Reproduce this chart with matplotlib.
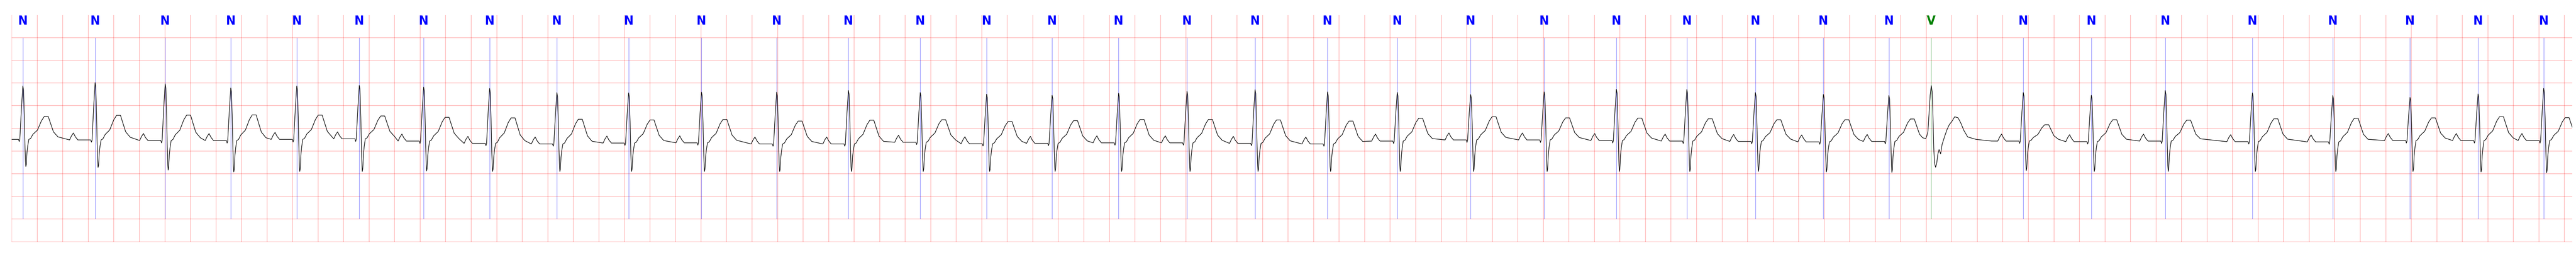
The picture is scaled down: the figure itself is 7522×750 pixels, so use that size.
import numpy as np
import matplotlib
matplotlib.use("Agg")
import matplotlib.pyplot as plt

# ---------------- data ----------------
# R-peak times (s) and beat annotations
beat_times = [0.087, 0.653, 1.202, 1.716, 2.233, 2.723, 3.227, 3.744, 4.271, 4.833,
              5.404, 5.993, 6.555, 7.118, 7.638, 8.151, 8.672, 9.208, 9.741,
              10.309, 10.855, 11.430, 12.006, 12.572, 13.124, 13.661, 14.194, 14.707, 15.039,
              15.760, 16.293, 16.872, 17.555, 18.185, 18.790, 19.323, 19.837]
beat_labels = ['N'] * 28 + ['V'] + ['N'] * 8

# per-beat amplitudes (mV)
r_peak_mv = [0.935, 1.008, 0.983, 0.890, 0.933, 0.946, 0.910, 0.880, 0.789, 0.782,
             0.799, 0.799, 0.837, 0.789, 0.754, 0.729, 0.774, 0.817, 0.852,
             0.804, 0.794, 0.746, 0.804, 0.860, 0.857, 0.789, 0.749, 0.726, 0.946,
             0.789, 0.729, 0.834, 0.782, 0.726, 0.683, 0.759, 0.882]
s_trough_mv = [-0.84, -0.86, -0.92, -0.96, -0.95, -0.95, -0.94, -0.95, -0.95, -0.95,
               -0.95, -0.95, -0.95, -0.95, -0.95, -0.95, -0.95, -0.95, -0.95,
               -0.95, -0.95, -0.95, -0.95, -0.95, -0.95, -0.95, -0.96, -0.97, -0.86,
               -0.93, -0.95, -0.95, -0.95, -0.95, -0.95, -0.96, -0.98]
t_peak_mv = [0.261, 0.286, 0.291, 0.296, 0.291, 0.273, 0.243, 0.231, 0.201, 0.185,
             0.196, 0.160, 0.180, 0.190, 0.150, 0.170, 0.196, 0.196, 0.185,
             0.160, 0.221, 0.256, 0.231, 0.226, 0.211, 0.190, 0.190, 0.206, 0.261,
             0.080, 0.190, 0.180, 0.211, 0.221, 0.231, 0.256, 0.236]
baseline_mv = [-0.243, -0.255, -0.268, -0.268, -0.243, -0.231, -0.280, -0.331, -0.344, -0.324,
               -0.319, -0.344, -0.344, -0.306, -0.339, -0.331, -0.319, -0.319, -0.331,
               -0.344, -0.280, -0.255, -0.255, -0.268, -0.280, -0.288, -0.298, -0.288, -0.218,
               -0.280, -0.293, -0.280, -0.293, -0.298, -0.268, -0.268, -0.268]

# shape of a normal beat read from one clean complex: offset from R (s), level above baseline (mV)
n_offsets = [-0.034, -0.0285, -0.024, -0.0107, 0.0, 0.0054, 0.0117, 0.016, 0.0206, 0.0233,
             0.027, 0.0322, 0.0385, 0.047, 0.0608, 0.0787, 0.1145, 0.1458, 0.168, 0.199,
             0.217, 0.2397, 0.2755]
n_levels = [0.0, -0.056, -0.01, 0.56, 0.94, 0.87, 0.378, -0.09, -0.56, -0.69,
            -0.64, -0.34, -0.16, 0.0, 0.02, 0.107, 0.197, 0.396, 0.486, 0.486,
            0.34, 0.16, 0.053]
n_ref_r, n_ref_s, n_ref_t = 0.94, -0.69, 0.486
p_offsets = [-0.20, -0.185, -0.17, -0.155, -0.135]
p_levels = [0.0, 0.09, 0.154, 0.07, 0.0]

# the ventricular beat, read directly (offset from R in s, mV)
v_offsets = [-0.068, -0.044, -0.035, -0.026, -0.018, -0.0083, 0.0, 0.0072, 0.013, 0.0193,
             0.0252, 0.0335, 0.042, 0.0516, 0.0612, 0.0733, 0.085, 0.1055, 0.1234, 0.1414,
             0.1618, 0.1833, 0.21, 0.2314, 0.2553, 0.2852, 0.351, 0.471]
v_mv = [-0.207, -0.225, -0.17, -0.063, 0.30, 0.733, 0.942, 0.80, 0.30, -0.424,
        -0.749, -0.857, -0.785, -0.568, -0.467, -0.561, -0.352, -0.171, -0.027, 0.082,
        0.155, 0.255, 0.233, 0.118, -0.045, -0.189, -0.243, -0.279]

label_colors = {'N': 'blue', 'V': 'green'}

# ---------------- build the trace ----------------
segments = []
for t0, lab, r, s, tp, b in zip(beat_times, beat_labels, r_peak_mv, s_trough_mv,
                                t_peak_mv, baseline_mv):
    pts = []
    if lab == 'N':
        for o, l in zip(p_offsets, p_levels):
            pts.append((t0 + o, b + l))
        for o, l in zip(n_offsets, n_levels):
            if o <= 0.048:
                k = (r - b) / n_ref_r if l > 0 else (b - s) / (-n_ref_s)
            else:
                k = (tp - b) / n_ref_t
            pts.append((t0 + o, b + l * k))
    else:
        pts = [(t0 + o, v) for o, v in zip(v_offsets, v_mv)]
    segments.append(pts)

trace_t, trace_v = [], []
for i, pts in enumerate(segments):
    limit = segments[i + 1][0][0] if i + 1 < len(segments) else np.inf
    for t, v in pts:
        if t < limit:
            trace_t.append(t)
            trace_v.append(v)

# ---------------- figure ----------------
W, H = 7522, 750
fig = plt.figure(figsize=(W / 100, H / 100), dpi=100)
ax = fig.add_axes([34.3 / W, (H - 705.7) / H, (7510.7 - 34.3) / W, (705.7 - 44.0) / H])

ax.set_xlim(0, 20.06)
ax.set_ylim(-2.5, 2.496)
ax.set_xticks(np.arange(0, 20.001, 0.2))
ax.set_yticks(np.arange(-2.5, 2.001, 0.5))
ax.grid(True, color='red', alpha=0.25, linewidth=1.5)
ax.tick_params(length=0, labelbottom=False, labelleft=False)
for sp in ax.spines.values():
    sp.set_visible(False)
ax.set_axisbelow(True)

ax.plot(trace_t, trace_v, color='black', linewidth=1.2, zorder=3)

cols = [label_colors[l] for l in beat_labels]
ax.vlines(beat_times, -2.0, 2.0, colors=cols, linewidth=1.0, alpha=0.5, zorder=2)
for t, lab in zip(beat_times, beat_labels):
    ax.text(t, 2.287, lab, ha='center', va='baseline', color=label_colors[lab],
            fontsize=27, fontweight='bold', fontstretch='condensed', family='DejaVu Sans')

fig.savefig('out.png', dpi=100)
